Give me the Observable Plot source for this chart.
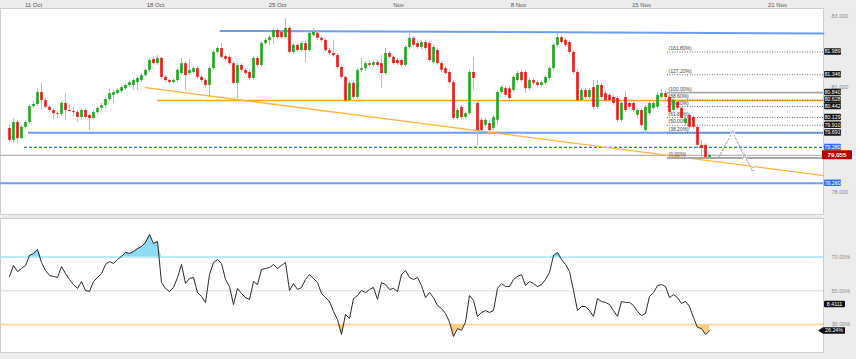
<!DOCTYPE html>
<html><head><meta charset="utf-8">
<script src="https://cdn.jsdelivr.net/npm/d3@7"></script>
<script src="https://cdn.jsdelivr.net/npm/@observablehq/plot@0.6"></script>
<style>
body{margin:0;background:#fff;}
#chart{position:relative;width:856px;height:359px;background:#ececec;overflow:hidden;}
#chart svg{position:absolute;left:0;display:block;overflow:visible}
</style></head><body><div id="chart"></div>
<script>
// ---- candle data (4h bars) ----
const opens=[79.82,79.48,79.99,79.53,79.85,79.99,80.44,80.50,80.84,80.61,80.42,80.33,80.24,80.22,80.53,80.33,80.30,80.27,80.13,80.33,80.19,80.10,80.27,80.39,80.47,80.64,80.76,80.81,80.87,80.95,81.04,81.04,81.12,81.18,81.32,81.47,81.78,81.66,81.81,81.27,81.18,81.12,81.18,81.38,81.66,81.38,81.41,81.52,81.27,81.18,81.04,81.52,81.98,82.09,81.86,81.84,81.66,81.10,81.61,81.47,81.41,81.24,81.81,81.61,82.23,82.32,82.40,82.60,82.55,82.40,82.66,81.98,82.18,82.03,82.23,82.03,82.46,82.52,82.38,82.32,82.03,81.95,81.89,81.55,81.27,80.61,81.10,80.70,81.47,81.52,81.66,81.61,81.69,81.66,81.38,81.95,81.84,81.75,81.75,81.61,82.12,82.38,82.23,82.12,82.26,82.23,81.69,82.03,81.66,81.52,81.41,81.12,80.10,80.42,80.13,80.24,81.41,80.53,80.05,79.90,79.96,79.82,80.05,80.84,80.95,80.95,80.90,81.18,81.41,81.41,80.95,81.18,81.12,81.04,81.10,81.24,81.52,82.18,82.40,82.32,82.26,81.98,81.41,80.61,80.90,80.70,80.98,80.42,81.04,80.81,80.76,80.70,80.67,80.05,80.70,80.53,80.53,80.19,80.33,79.76,80.24,80.39,80.42,80.70,80.81,80.70,80.33,80.56,80.39,79.96,80.19,80.13,79.85,79.34,79.34,78.99];
const highs=[79.93,80.10,80.05,79.90,80.05,80.50,80.56,80.95,81.12,80.67,80.47,80.39,80.30,80.59,80.81,80.50,80.42,80.33,80.39,80.39,80.24,80.33,80.44,80.53,80.70,80.93,80.90,80.95,81.04,81.10,81.18,81.24,81.30,81.38,81.52,81.81,81.84,81.89,81.84,81.32,81.21,81.24,81.52,81.81,81.72,81.78,81.58,81.58,81.32,81.24,81.58,82.03,82.15,82.23,81.92,81.89,81.72,81.66,81.66,81.52,81.47,81.86,81.86,82.29,82.38,82.46,82.66,82.66,82.60,82.94,82.72,82.23,82.23,82.29,82.29,82.57,82.66,82.57,82.43,82.38,82.09,82.32,81.95,81.61,81.32,81.15,81.15,81.52,81.81,81.72,81.75,81.75,81.75,81.89,82.09,82.01,81.89,81.81,81.81,82.18,82.60,82.43,82.29,82.32,82.32,82.29,82.18,82.09,81.72,81.58,81.47,81.18,80.39,80.47,80.30,81.47,81.84,80.59,80.10,80.10,80.02,80.19,80.90,81.04,81.01,81.01,81.32,81.44,81.47,81.47,81.24,81.24,81.18,81.18,81.32,81.58,82.23,82.52,82.46,82.38,82.32,82.03,81.47,80.95,80.95,80.95,81.18,81.18,81.10,80.87,80.81,80.76,80.73,80.59,80.87,80.59,80.59,80.39,80.39,80.47,80.59,80.59,80.84,80.93,80.87,80.76,80.67,80.61,80.44,80.16,80.24,80.19,79.90,79.48,79.39,79.08];
const lows=[79.42,79.39,79.39,79.51,79.79,79.93,80.39,80.44,80.33,80.36,80.27,80.05,80.10,80.16,80.05,80.27,80.16,79.99,80.07,80.07,79.76,80.07,80.22,80.33,80.39,80.59,80.53,80.76,80.81,80.90,80.98,80.90,80.90,81.12,81.27,81.41,81.61,81.61,81.21,81.12,81.07,81.10,81.12,81.32,80.90,81.32,81.35,81.21,81.12,80.98,80.70,81.47,81.92,81.78,81.72,81.61,81.04,80.67,81.41,81.32,81.18,81.18,81.55,81.55,82.18,82.18,82.20,82.35,82.35,82.38,81.92,81.92,81.98,81.98,81.69,81.98,82.43,82.32,82.26,81.98,81.89,81.84,81.49,81.21,80.56,80.59,80.64,80.64,81.41,81.44,81.55,81.55,81.55,80.95,81.32,81.78,81.61,81.61,81.55,81.55,82.06,82.12,82.06,82.06,82.03,81.69,81.64,81.61,81.41,81.32,81.07,80.05,80.05,80.07,80.07,80.19,80.90,79.34,79.70,79.85,79.62,79.76,79.90,80.78,80.70,80.61,80.84,81.12,81.12,80.81,80.90,81.04,80.98,80.98,81.04,81.18,81.47,82.12,82.20,82.12,81.92,81.35,80.56,80.59,80.64,80.64,80.33,80.36,80.64,80.56,80.56,80.47,79.99,79.99,80.27,80.36,80.27,80.10,79.85,79.70,80.19,80.33,80.36,80.64,80.61,80.22,80.27,80.33,80.05,79.90,79.79,79.79,79.25,78.99,78.97,78.97];
const closes=[79.48,79.99,79.53,79.85,79.99,80.44,80.50,80.84,80.61,80.42,80.33,80.24,80.22,80.53,80.33,80.30,80.27,80.13,80.33,80.13,80.10,80.27,80.39,80.47,80.64,80.81,80.84,80.90,80.98,81.04,81.12,81.18,81.24,81.32,81.47,81.75,81.66,81.81,81.27,81.18,81.12,81.18,81.47,81.66,81.32,81.47,81.52,81.27,81.18,81.04,81.52,81.98,82.09,81.84,81.78,81.66,81.10,81.61,81.47,81.38,81.24,81.81,81.61,82.23,82.32,82.40,82.60,82.40,82.40,82.66,81.98,82.18,82.03,82.23,82.03,82.52,82.55,82.38,82.32,82.03,81.95,81.89,81.55,81.27,80.61,81.10,80.70,81.47,81.52,81.66,81.61,81.69,81.61,81.38,81.95,81.84,81.66,81.66,81.61,82.12,82.38,82.18,82.12,82.26,82.09,81.75,82.12,81.66,81.47,81.38,81.12,80.10,80.33,80.13,80.24,81.41,81.24,79.76,79.76,80.05,79.76,80.13,80.84,80.98,80.76,80.67,81.27,81.38,81.18,80.95,81.18,81.10,81.04,81.12,81.27,81.52,82.18,82.40,82.26,82.18,81.98,81.41,80.61,80.90,80.70,80.90,80.42,81.04,80.70,80.61,80.61,80.53,80.05,80.53,80.33,80.42,80.33,80.33,79.90,80.42,80.53,80.53,80.76,80.81,80.70,80.27,80.61,80.39,80.10,80.10,79.85,79.85,79.34,79.25,78.99,79.055];
// ---- RSI (%) ----
const rsi=[58.5,65.0,61.4,63.2,65.0,70.9,72.1,74.4,66.7,62.0,59.1,58.5,57.9,64.4,60.2,56.7,53.7,51.4,55.5,50.2,49.6,55.5,57.9,60.2,65.6,67.3,66.2,68.5,70.3,72.7,72.1,73.3,75.0,76.2,78.6,83.3,78.0,79.2,54.9,51.4,49.6,52.0,57.9,65.6,54.3,57.3,57.9,49.0,46.6,43.1,59.6,66.7,68.5,66.2,56.7,52.5,41.9,51.4,48.4,46.0,44.9,55.5,53.7,62.6,63.2,63.8,65.6,63.2,65.0,66.7,50.2,54.3,50.8,52.0,56.7,59.6,57.3,54.9,48.4,46.0,43.7,37.8,33.0,24.2,36.0,33.6,45.4,47.2,50.2,49.0,50.8,52.0,44.9,54.9,53.7,50.8,51.4,49.6,59.6,62.0,57.9,56.7,57.9,53.1,46.0,49.0,46.0,41.3,39.5,36.6,31.5,23.0,27.7,26.6,31.5,47.2,44.3,34.8,37.2,38.3,37.2,38.3,51.4,54.3,52.5,52.5,56.7,58.5,59.6,53.1,55.5,54.3,52.5,53.7,56.7,60.8,70.9,72.7,68.5,65.6,61.4,50.2,38.3,40.7,40.7,38.3,34.8,45.4,43.7,43.1,41.9,38.3,34.8,43.7,43.1,43.1,41.3,37.8,35.4,36.6,46.6,49.0,53.1,53.7,52.5,46.0,47.8,46.0,42.5,43.7,40.7,34.2,28.3,27.7,24.2,26.24];
// ---- axis labels ----
const dateLabels=["11 Oct","18 Oct","25 Oct","Nov","8 Nov","15 Nov","21 Nov"];
const dateTickIdx=[6,36.5,67,97.25,127.25,158,192];
const priceTicks=[78,81,83];
const rsiTicks=[30,50,70];
// ---- drawn levels ----
const supportBlue=79.70, supportBlueFrom=4.75;
const dashedBlue=79.28, dashedBlueFrom=3.75;
const orangeLevel=80.61, orangeFrom=37;
const lowerBlue=78.26;
const lastPrice=79.055;
const resistX=[52.75,203.5], resistY=[82.59,82.52];
const slopeX=[34,203.5], slopeY=[80.98,78.48];
const fibLow=78.98, fibHigh=80.84, fibFrom=164.5;
const fibRatios=[0,0.382,0.5,0.618,0.786,0.886,1,1.272,1.618];
const projIdx=[177.25,180.75,183.75,185.75];
const projPrice=[78.99,79.72,79.03,78.65];
const projLabels=["","A","B","C"];
const rsiOB=70, rsiOS=30;
const rsiSideTag={text:"8.4111", value:41.9};

const FONT="Liberation Sans, Arial, sans-serif";
const XD=[-2.25,203.5];
const xEnd=XD[1];
const candles=closes.map((c,i)=>({i,o:opens[i],h:highs[i],l:lows[i],c,r:rsi[i]}));
const ups=candles.filter(d=>d.c>=d.o), downs=candles.filter(d=>d.c<d.o);
const fibs=fibRatios.map(r=>({r,price:fibLow+r*(fibHigh-fibLow),label:"("+(r*100).toFixed(2)+"%)"}));
const proj=projIdx.map((x,k)=>({x,y:projPrice[k],t:projLabels[k]}));

function tagMark(tags){
  return (index, scales, values, dim) => {
    const g=d3.create("svg:g").attr("font-family",FONT);
    const x0=dim.width-dim.marginRight;
    for(const t of tags){
      const y=scales.y(t.value), h=t.h||6.5, w=t.w||17, left=x0+(t.dx??1);
      if(t.arrow){
        g.append("path").attr("d",`M${left-5},${y}L${left},${y-h/2}H${left+w}V${y+h/2}H${left}Z`).attr("fill",t.fill);
      } else {
        g.append("rect").attr("x",left).attr("y",y-h/2).attr("width",w).attr("height",h).attr("fill",t.fill).attr("rx",1);
      }
      g.append("text").attr("x",left+w/2).attr("y",y).attr("dy","0.36em").attr("text-anchor","middle")
        .attr("font-size",t.fs||5.3).attr("font-weight",t.bold?"bold":null).attr("fill",t.color||"#fff").text(t.text);
    }
    return g.node();
  };
}

const priceTags=[
  ...fibs.filter(f=>f.r>0).map(f=>({value:f.price,text:f.price.toFixed(3),fill:"#161616"})),
  {value:dashedBlue,text:dashedBlue.toFixed(3),fill:"#2f6df6"},
  {value:lowerBlue,text:lowerBlue.toFixed(3),fill:"#2f6df6"},
  {value:lastPrice,text:lastPrice.toFixed(3),fill:"#b40000",w:30,h:9,dx:-1,fs:6.2,bold:true}
];

const main=Plot.plot({
  width:856,height:215,marginTop:8,marginBottom:1,marginLeft:0,marginRight:33,
  style:{background:"transparent",fontFamily:FONT},
  x:{domain:XD},
  y:{domain:[77.375,83.227]},
  color:{type:"identity"},
  marks:[
    Plot.frame({fill:"white",stroke:"#cdcdcd"}),
    Plot.axisX({anchor:"top",ticks:dateTickIdx,tickFormat:d=>dateLabels[dateTickIdx.indexOf(d)],tickSize:0,tickPadding:1.5,fontSize:6,fill:"#555",label:null}),
    Plot.axisY({anchor:"right",ticks:priceTicks,tickFormat:d=>d.toFixed(3),tickSize:0,tickPadding:8,fontSize:5.5,fill:"#8a8a8a",label:null}),
    // horizontal levels
    Plot.ruleY([lowerBlue],{x1:XD[0],x2:xEnd,stroke:"#6d9cf0",strokeWidth:2}),
    Plot.ruleY([supportBlue],{x1:supportBlueFrom,x2:xEnd,stroke:"#6d9cf0",strokeWidth:2}),
    Plot.ruleY([dashedBlue],{x1:dashedBlueFrom,x2:xEnd,stroke:"#3a74ee",strokeWidth:1.3,strokeDasharray:"3,2"}),
    Plot.ruleY([lastPrice],{x1:XD[0],x2:xEnd,stroke:"#b4b4b4",strokeWidth:1.4}),
    Plot.ruleY([orangeLevel],{x1:orangeFrom,x2:xEnd,stroke:"#ffa31a",strokeWidth:1.5}),
    // trend lines
    Plot.line(resistX.map((x,k)=>({x,y:resistY[k]})),{x:"x",y:"y",stroke:"#6d9cf0",strokeWidth:2}),
    Plot.line(slopeX.map((x,k)=>({x,y:slopeY[k]})),{x:"x",y:"y",stroke:"#ffb340",strokeWidth:1.4}),
    // fibonacci
    Plot.ruleY(fibs.filter(f=>f.r!==0&&f.r!==1),{y:"price",x1:fibFrom,x2:xEnd,stroke:"#666",strokeWidth:0.9,strokeDasharray:"1,1.5"}),
    Plot.ruleY(fibs.filter(f=>f.r===0||f.r===1),{y:"price",x1:fibFrom,x2:xEnd,stroke:"#a8a8a8",strokeWidth:1.8}),
    Plot.text(fibs,{x:fibFrom,y:"price",text:"label",dy:-3.5,dx:1,textAnchor:"start",fontSize:5,fill:"#444"}),
    // candles
    Plot.ruleX(ups,{x:"i",y1:"l",y2:"h",stroke:"#94d694",strokeWidth:1}),
    Plot.ruleX(downs,{x:"i",y1:"l",y2:"h",stroke:"#f5a5a5",strokeWidth:1}),
    Plot.ruleX(ups,{x:"i",y1:"o",y2:"c",stroke:"#16a816",strokeWidth:2.6}),
    Plot.ruleX(downs,{x:"i",y1:"o",y2:"c",stroke:"#f01515",strokeWidth:2.6}),
    // projection
    Plot.line(proj,{x:"x",y:"y",stroke:"#9a9a9a",strokeWidth:1,strokeDasharray:"2,2"}),
    Plot.text(proj.filter(d=>d.t),{x:"x",y:"y",text:"t",fontSize:5.5,fill:"#888",stroke:"white",strokeWidth:1.5}),
    tagMark(priceTags)
  ]
});

const rsiTags=[
  {value:rsiSideTag.value,text:rsiSideTag.text,fill:"#111",w:21},
  {value:rsi[rsi.length-1],text:rsi[rsi.length-1].toFixed(2)+"%",fill:"#111",w:22,arrow:true,dx:0}
];
const rsiPlot=Plot.plot({
  width:856,height:144,marginTop:3,marginBottom:7,marginLeft:0,marginRight:33,
  style:{background:"transparent",fontFamily:FONT},
  x:{domain:XD,axis:null},
  y:{domain:[13.5,92.8]},
  marks:[
    Plot.frame({fill:"white",stroke:"#cdcdcd"}),
    Plot.axisY({anchor:"right",ticks:rsiTicks,tickFormat:d=>d.toFixed(2)+"%",tickSize:0,tickPadding:8,fontSize:5.5,fill:"#8a8a8a",label:null}),
    Plot.ruleY([50],{stroke:"#dddddd",strokeWidth:1}),
    Plot.areaY(candles,{x:"i",y1:rsiOB,y2:d=>Math.max(d.r,rsiOB),fill:"#8fdbf6"}),
    Plot.areaY(candles,{x:"i",y1:rsiOS,y2:d=>Math.min(d.r,rsiOS),fill:"#ffcd7d"}),
    Plot.ruleY([rsiOB],{stroke:"#a6e2f6",strokeWidth:1.5}),
    Plot.ruleY([rsiOS],{stroke:"#ffd488",strokeWidth:1.5}),
    Plot.line(candles,{x:"i",y:"r",stroke:"#2a2a2a",strokeWidth:1}),
    tagMark(rsiTags)
  ]
});

const root=document.getElementById("chart");
main.style.top="0px";
rsiPlot.style.top="215px";
root.appendChild(main);
root.appendChild(rsiPlot);
</script></body></html>
